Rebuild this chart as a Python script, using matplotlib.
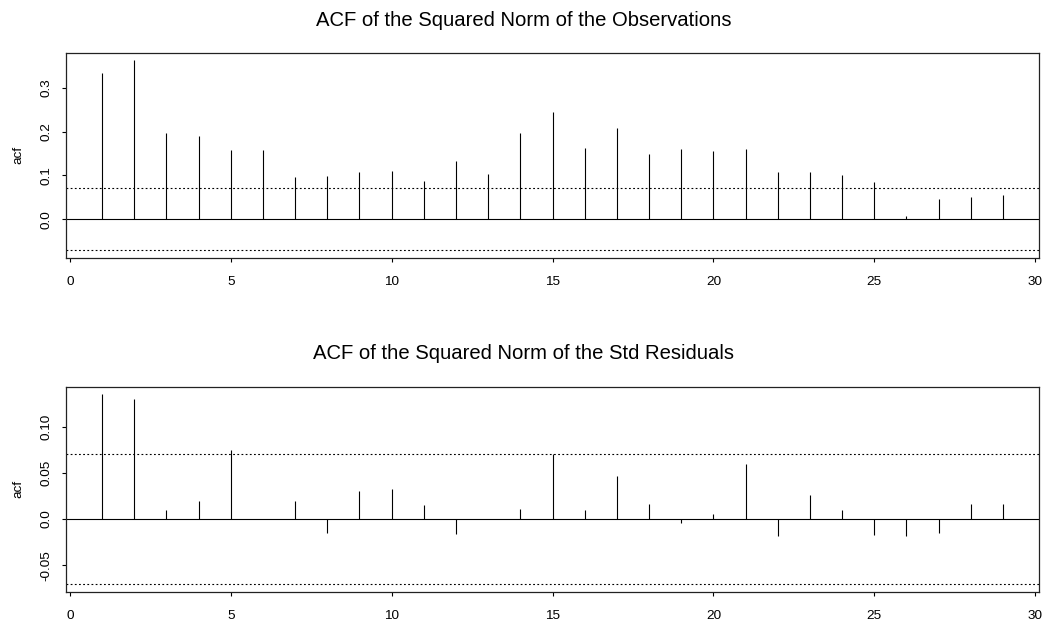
import matplotlib
matplotlib.use("Agg")
import matplotlib.pyplot as plt
import numpy as np

# lags and ACF values
lags = list(range(1, 30))
acf_obs = [0.333, 0.363, 0.196, 0.189, 0.158, 0.157, 0.096, 0.099, 0.107, 0.110,
           0.087, 0.134, 0.103, 0.196, 0.244, 0.162, 0.208, 0.150, 0.161, 0.155,
           0.161, 0.109, 0.107, 0.102, 0.085, 0.008, 0.046, 0.050, 0.056]
acf_res = [0.135, 0.130, 0.010, 0.020, 0.075, 0.0005, 0.019, -0.015, 0.030, 0.033,
           0.015, -0.016, 0.0005, 0.011, 0.070, 0.010, 0.046, 0.016, -0.004, 0.005,
           0.060, -0.018, 0.026, 0.010, -0.017, -0.018, -0.015, 0.016, 0.016]
conf_band = 0.0705

titles = ["ACF of the Squared Norm of the Observations",
          "ACF of the Squared Norm of the Std Residuals"]
xticks = [0, 5, 10, 15, 20, 25, 30]
yticks_obs = [0.0, 0.1, 0.2, 0.3]
ylabels_obs = ["0.0", "0.1", "0.2", "0.3"]
yticks_res = [-0.05, 0.0, 0.05, 0.10]
ylabels_res = ["-0.05", "0.0", "0.05", "0.10"]

plt.rcParams['font.family'] = ['Liberation Sans', 'DejaVu Sans']
plt.rcParams['lines.scale_dashes'] = False

W, H = 1047, 627
fig = plt.figure(figsize=(W / 100, H / 100), dpi=100)

left, right = 66 / W, 1039 / W
boxes = [(52.7, 257.7), (386.7, 591.7)]
title_y = [25.7, 359.3]
panels = [(acf_obs, yticks_obs, ylabels_obs), (acf_res, yticks_res, ylabels_res)]

for (top, bot), ty, title, (vals, yt, yl) in zip(boxes, title_y, titles, panels):
    ax = fig.add_axes([left, 1 - bot / H, right - left, (bot - top) / H])
    ax.vlines(lags, 0, vals, color='black', linewidth=0.8)
    ax.axhline(0, color='black', linewidth=0.8)
    for c in (conf_band, -conf_band):
        ax.axhline(c, color='black', linewidth=0.8, linestyle=(0, (1.3, 1.7)))

    # R-style 4% padding around the data range
    lo = min(min(vals), -conf_band)
    hi = max(max(vals), conf_band)
    pad = 0.04 * (hi - lo)
    ax.set_ylim(lo - pad, hi + pad)
    ax.set_xlim(1 - 0.04 * 28, 29 + 0.04 * 28)

    ax.set_xticks(xticks)
    ax.set_yticks(yt)
    ax.set_yticklabels(yl, rotation=90, va='center')
    ax.tick_params(axis='both', direction='out', length=3.2, width=0.8,
                   labelsize=9.7, color='black')
    ax.tick_params(axis='x', pad=10)
    ax.tick_params(axis='y', pad=6.5)
    for s in ax.spines.values():
        s.set_linewidth(0.9)
        s.set_color('#222222')

    ax.set_ylabel("acf", fontsize=9.7)
    ax.yaxis.set_label_coords(-0.043, 0.5)

    fig.text(0.5, 1 - ty / H, title, ha='center', va='baseline', fontsize=14.6)

fig.savefig("out.png", dpi=100)
